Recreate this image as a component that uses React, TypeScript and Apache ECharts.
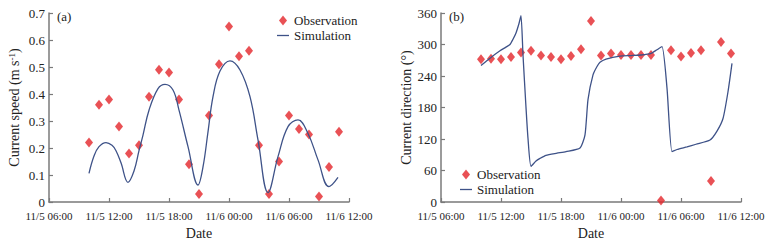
import React, { useEffect, useRef } from "react";
import * as echarts from "echarts";

// Hours counted from 11/5 00:00
const xTickLabels = ["11/5 06:00", "11/5 12:00", "11/5 18:00", "11/6 00:00", "11/6 06:00", "11/6 12:00"];
const obsHours = [10, 11, 12, 13, 14, 15, 16, 17, 18, 19, 20, 21, 22, 23, 24, 25, 26, 27, 28, 29, 30, 31, 32, 33, 34, 35];

const speedObs = [0.22, 0.36, 0.38, 0.28, 0.18, 0.21, 0.39, 0.49, 0.48, 0.38, 0.14, 0.03, 0.32, 0.51, 0.65, 0.54, 0.56, 0.21, 0.03, 0.15, 0.32, 0.27, 0.25, 0.02, 0.13, 0.26];
const speedSimHours = [10.0, 10.5, 11.0, 11.7, 12.3, 12.7, 13.2, 13.9, 14.5, 15.0, 15.4, 16.0, 16.9, 17.6, 18.4, 19.0, 19.9, 20.9, 21.4, 21.9, 22.4, 23.1, 24.1, 25.1, 26.1, 26.9, 27.9, 28.9, 29.9, 30.9, 31.9, 32.9, 34.0, 34.9];
const speedSimValues = [0.106, 0.17, 0.205, 0.22, 0.21, 0.19, 0.145, 0.073, 0.115, 0.19, 0.248, 0.34, 0.42, 0.436, 0.415, 0.34, 0.205, 0.063, 0.13, 0.26, 0.39, 0.485, 0.523, 0.489, 0.39, 0.23, 0.035, 0.168, 0.279, 0.304, 0.254, 0.156, 0.057, 0.091];

const dirObs = [272, 273, 272, 276, 285, 288, 279, 276, 272, 278, 291, 345, 279, 283, 280, 280, 280, 280, 3, 289, 277, 284, 289, 40, 305, 283];
const dirSimHours = [10.0, 10.9, 11.9, 12.5, 12.9, 13.2, 13.5, 13.8, 14.0, 14.2, 14.5, 14.7, 15.0, 15.5, 15.9, 16.5, 17.6, 18.5, 19.9, 20.4, 20.7, 21.2, 21.6, 21.9, 22.5, 23.9, 25.0, 26.0, 27.0, 27.6, 28.1, 28.6, 29.1, 29.6, 30.6, 31.5, 32.9, 33.6, 34.2, 34.7, 35.1];
const dirSimValues = [260, 274, 288, 295, 300, 310, 322, 340, 355, 280, 180, 121, 68, 78, 83, 89, 93, 96, 103, 128, 195, 242, 258, 266, 272, 278, 279, 280, 283, 290, 296, 217, 96, 100, 105, 110, 118, 135, 159, 210, 264];

const FONT = "Liberation Serif";
const RED = "#e3262b";
const BLUE = "#3e5288";

export default function App() {
  const ref = useRef<HTMLDivElement>(null);
  useEffect(() => {
    if (!ref.current) return;
    const chart = echarts.init(ref.current, undefined, { renderer: "svg" });
    const xLabel = (v: number) => xTickLabels[Math.round((v - 6) / 6)] ?? "";
    const axisLine = { show: true, lineStyle: { color: "#7a7a7a", width: 1.5 } };
    const axisTick = { show: true, inside: true, length: 4, lineStyle: { color: "#7a7a7a", width: 1.2 } };
    const xAxisBase = (gridIndex: number) => ({
      type: "value",
      gridIndex,
      min: 6,
      max: 36,
      interval: 6,
      axisLine,
      axisTick,
      splitLine: { show: false },
      axisLabel: { formatter: xLabel, fontFamily: FONT, fontSize: 11, color: "#222", margin: 8 },
      name: "Date",
      nameLocation: "middle",
      nameGap: 24,
      nameTextStyle: { fontFamily: FONT, fontSize: 14, color: "#222" },
    });
    const legendBase = {
      orient: "vertical",
      itemWidth: 12,
      itemHeight: 10,
      itemGap: 2,
      symbolKeepAspect: true,
      textStyle: { fontFamily: FONT, fontSize: 13, color: "#222" },
      data: [
        { name: "Observation", icon: "path://M4,0 L8,5 L4,10 L0,5 Z" },
        { name: "Simulation", icon: "path://M0,0 L24,0 L24,2.6 L0,2.6 Z" },
      ],
    };
    chart.setOption({
      animation: false,
      backgroundColor: "#fff",
      grid: [
        { left: 49, top: 13, width: 300, height: 189 },
        { left: 441, top: 13, width: 300, height: 189 },
      ],
      legend: [
        { ...legendBase, left: 272, top: 9 },
        { ...legendBase, left: 455, top: 163 },
      ],
      graphic: [
        { type: "text", left: 57, top: 10, style: { text: "(a)", fontFamily: FONT, fontSize: 13, fill: "#222" } },
        { type: "text", left: 449, top: 10, style: { text: "(b)", fontFamily: FONT, fontSize: 13, fill: "#222" } },
      ],
      xAxis: [xAxisBase(0), xAxisBase(1)],
      yAxis: [
        {
          type: "value",
          gridIndex: 0,
          min: 0,
          max: 0.7,
          interval: 0.1,
          axisLine,
          axisTick,
          splitLine: { show: false },
          axisLabel: {
            formatter: (v: number) => (v === 0 ? "0" : v.toFixed(1)),
            fontFamily: FONT,
            fontSize: 13,
            color: "#222",
            margin: 4,
          },
          name: "Current speed (m s{sup|-1})",
          nameLocation: "middle",
          nameGap: 28,
          nameTextStyle: {
            fontFamily: FONT,
            fontSize: 14,
            color: "#222",
            rich: { sup: { fontFamily: FONT, fontSize: 9, verticalAlign: "top", color: "#222" } },
          },
        },
        {
          type: "value",
          gridIndex: 1,
          min: 0,
          max: 360,
          interval: 60,
          axisLine,
          axisTick,
          splitLine: { show: false },
          axisLabel: { fontFamily: FONT, fontSize: 13, color: "#222", margin: 4 },
          name: "Current direction (°)",
          nameLocation: "middle",
          nameGap: 28,
          nameTextStyle: { fontFamily: FONT, fontSize: 14, color: "#222" },
        },
      ],
      series: [
        {
          name: "Simulation",
          type: "line",
          xAxisIndex: 0,
          yAxisIndex: 0,
          symbol: "none",
          smooth: 0.4,
          lineStyle: { color: BLUE, width: 1.3 },
          itemStyle: { color: BLUE },
          data: speedSimHours.map((h, i) => [h, speedSimValues[i]]),
        },
        {
          name: "Observation",
          type: "scatter",
          xAxisIndex: 0,
          yAxisIndex: 0,
          symbol: "diamond",
          symbolSize: [8, 10],
          itemStyle: { color: RED },
          data: obsHours.map((h, i) => [h, speedObs[i]]),
        },
        {
          name: "Simulation",
          type: "line",
          xAxisIndex: 1,
          yAxisIndex: 1,
          symbol: "none",
          smooth: 0.2,
          lineStyle: { color: BLUE, width: 1.3 },
          itemStyle: { color: BLUE },
          data: dirSimHours.map((h, i) => [h, dirSimValues[i]]),
        },
        {
          name: "Observation",
          type: "scatter",
          xAxisIndex: 1,
          yAxisIndex: 1,
          symbol: "diamond",
          symbolSize: [8, 10],
          itemStyle: { color: RED },
          data: obsHours.map((h, i) => [h, dirObs[i]]),
        },
      ],
    });
    return () => chart.dispose();
  }, []);
  return (
    <div
      ref={ref}
      style={{ position: "fixed", left: 0, top: 0, width: 770, height: 250, background: "#fff" }}
    />
  );
}
